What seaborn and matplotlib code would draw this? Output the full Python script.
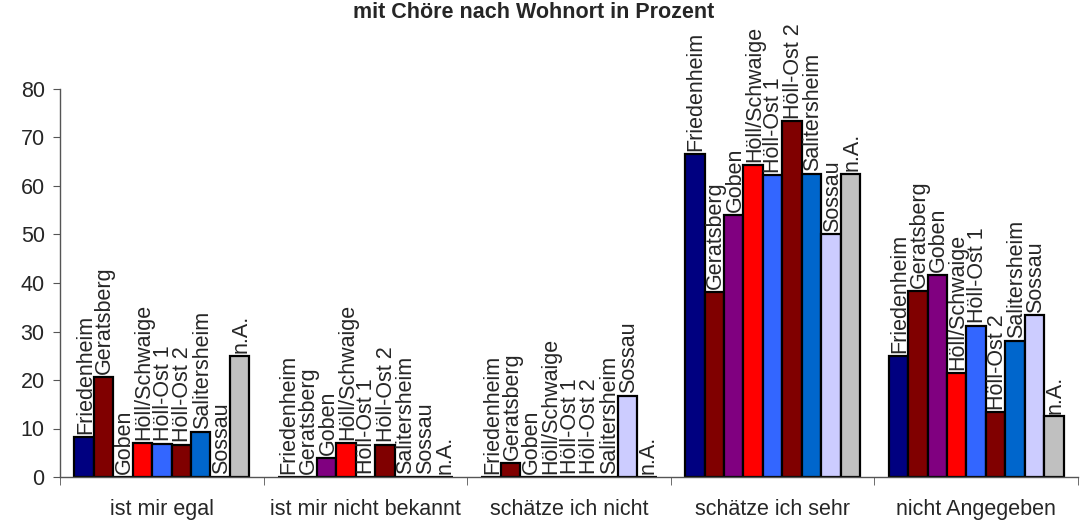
import matplotlib
matplotlib.use("Agg")
import matplotlib.pyplot as plt
import seaborn as sns
import pandas as pd

# answers (x categories) and places of residence (hue)
answers = ["ist mir egal", "ist mir nicht bekannt", "schätze ich nicht",
           "schätze ich sehr", "nicht Angegeben"]
places = ["Friedenheim", "Geratsberg", "Goben", "Höll/Schwaige", "Höll-Ost 1",
          "Höll-Ost 2", "Salitersheim", "Sossau", "n.A."]
colors = ["#000080", "#800000", "#800080", "#FF0000", "#3366FF",
          "#800000", "#0066CC", "#CCCCFF", "#C0C0C0"]

# percentage per place, one value per answer
friedenheim = [8.3, 0, 0, 66.7, 25.0]
geratsberg = [20.7, 0, 2.9, 38.2, 38.4]
goben = [0, 4.0, 0, 54.1, 41.7]
hoell_schwaige = [7.1, 7.1, 0, 64.3, 21.5]
hoell_ost1 = [6.9, 0, 0, 62.2, 31.1]
hoell_ost2 = [6.6, 6.7, 0, 73.3, 13.3]
salitersheim = [9.3, 0, 0, 62.5, 28.1]
sossau = [0, 0, 16.7, 50.0, 33.3]
n_a = [25.0, 0, 0, 62.5, 12.5]

series = [friedenheim, geratsberg, goben, hoell_schwaige, hoell_ost1,
          hoell_ost2, salitersheim, sossau, n_a]

rows = []
for place, vals in zip(places, series):
    for ans, v in zip(answers, vals):
        rows.append({"Antwort": ans, "Wohnort": place, "Prozent": v})
df = pd.DataFrame(rows)

sns.set_style("ticks")
plt.rcParams["font.family"] = ["Liberation Sans", "DejaVu Sans"]

fig = plt.figure(figsize=(10.89, 5.23), dpi=100)
ax = fig.add_axes([60 / 1089, 1 - 477 / 523, 1018 / 1089, 388 / 523])

sns.barplot(data=df, x="Antwort", y="Prozent", hue="Wohnort",
            order=answers, hue_order=places, palette=colors, saturation=1,
            width=0.86, edgecolor="black", linewidth=1.6,
            legend=False, ax=ax)

# place name above every bar
for place, cont in zip(places, ax.containers):
    for bar in cont:
        x = bar.get_x() + bar.get_width() / 2
        ax.annotate(place, (x, bar.get_height()), xytext=(1, 2),
                    textcoords="offset points", rotation=90,
                    ha="center", va="bottom", fontsize=15.5)

ax.set_xlim(-0.5, len(answers) - 0.5)
ax.set_ylim(0, 80)
ax.set_yticks(range(0, 81, 10))
ax.set_xlabel("")
ax.set_ylabel("")

# ticks between groups, labels centered
ax.set_xticks([i - 0.5 for i in range(len(answers) + 1)], minor=True)
ax.tick_params(axis="x", which="major", length=0, pad=16, labelsize=15.5)
ax.tick_params(axis="x", which="minor", length=6, color="#555555")
ax.tick_params(axis="y", length=5, pad=6, labelsize=15.5, color="#555555")

sns.despine(ax=ax)
for s in ["left", "bottom"]:
    ax.spines[s].set_color("#555555")
    ax.spines[s].set_linewidth(1.0)

fig.text(534 / 1089, 1 - 13 / 523, "mit Chöre nach Wohnort in Prozent",
         ha="center", va="center", fontsize=15.5, fontweight="bold")

fig.savefig("out.png", dpi=100)
